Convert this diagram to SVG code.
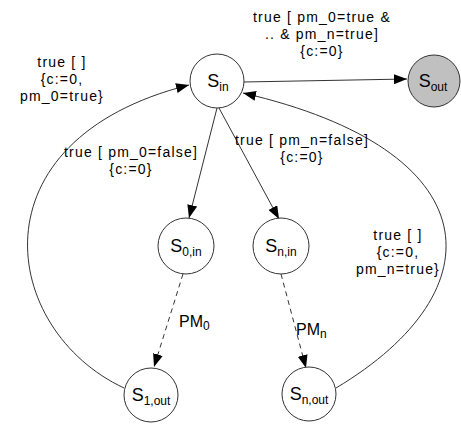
<svg xmlns="http://www.w3.org/2000/svg" width="461" height="424" viewBox="0 0 461 424">
<style>
.node{fill:#fff;stroke:#333;stroke-width:1}
.final{fill:#c0c0c0}
.nl{font-family:"Liberation Sans",Arial,sans-serif;font-size:18px;fill:#000;text-anchor:middle}
.sub{font-size:12px}
.el{font-family:"Liberation Sans",Arial,sans-serif;font-size:14px;fill:#000;text-anchor:middle;letter-spacing:1.2px}
.pm{font-family:"Liberation Sans",Arial,sans-serif;font-size:16px;fill:#000}
.edge{fill:none;stroke:#333;stroke-width:1}
.dash{stroke-dasharray:5,4}
</style>
<defs>
<marker id="arr" viewBox="0 0 13 10" refX="13" refY="5" markerWidth="13" markerHeight="10" orient="auto" markerUnits="userSpaceOnUse">
<path d="M0,0 L13,5 L0,10 z" fill="#000"/>
</marker>
</defs>
<g id="connectors">
<path class="edge" d="M243,82 L407,79" marker-end="url(#arr)"/>
<path class="edge" d="M217,108 L189,218" marker-end="url(#arr)"/>
<path class="edge" d="M219,108 L279,219" marker-end="url(#arr)"/>
<path class="edge dash" d="M183,274 L154,367" marker-end="url(#arr)"/>
<path class="edge dash" d="M281,274 L306,368" marker-end="url(#arr)"/>
<path class="edge" d="M124,388 C0,330 -30,140 189,85" marker-end="url(#arr)"/>
<path class="edge" d="M336,388 C500,290 490,150 243,93" marker-end="url(#arr)"/>
</g>
<g id="labels">
<text class="el" x="322" y="22">true [ pm_0=true &amp;</text>
<text class="el" x="322" y="39">.. &amp; pm_n=true]</text>
<text class="el" x="322" y="56">{c:=0}</text>
<text class="el" x="62" y="67">true [ ]</text>
<text class="el" x="62" y="84">{c:=0,</text>
<text class="el" x="62" y="101">pm_0=true}</text>
<text class="el" x="131" y="157">true [ pm_0=false]</text>
<text class="el" x="131" y="174">{c:=0}</text>
<text class="el" x="302" y="145">true [ pm_n=false]</text>
<text class="el" x="302" y="162">{c:=0}</text>
<text class="el" x="398" y="240">true [ ]</text>
<text class="el" x="398" y="257">{c:=0,</text>
<text class="el" x="398" y="274">pm_n=true}</text>
<text class="pm" x="179" y="327">PM<tspan class="sub" dy="3">0</tspan></text>
<text class="pm" x="296" y="335">PM<tspan class="sub" dy="3">n</tspan></text>
</g>
<g id="S_in">
<circle class="node" cx="217" cy="81" r="27"/>
<text class="nl" x="218" y="87">S<tspan class="sub" dy="4">in</tspan></text>
</g>
<g id="S_out">
<circle class="node final" cx="434" cy="81" r="26"/>
<text class="nl" x="433" y="87">S<tspan class="sub" dy="4">out</tspan></text>
</g>
<g id="S_0in">
<circle class="node" cx="186" cy="246" r="28"/>
<text class="nl" x="186" y="252">S<tspan class="sub" dy="4">0,in</tspan></text>
</g>
<g id="S_nin">
<circle class="node" cx="281" cy="246" r="28"/>
<text class="nl" x="281" y="252">S<tspan class="sub" dy="4">n,in</tspan></text>
</g>
<g id="S_1out">
<circle class="node" cx="151" cy="395" r="27"/>
<text class="nl" x="151" y="401">S<tspan class="sub" dy="4">1,out</tspan></text>
</g>
<g id="S_nout">
<circle class="node" cx="309" cy="394" r="27"/>
<text class="nl" x="309" y="400">S<tspan class="sub" dy="4">n,out</tspan></text>
</g>
</svg>
